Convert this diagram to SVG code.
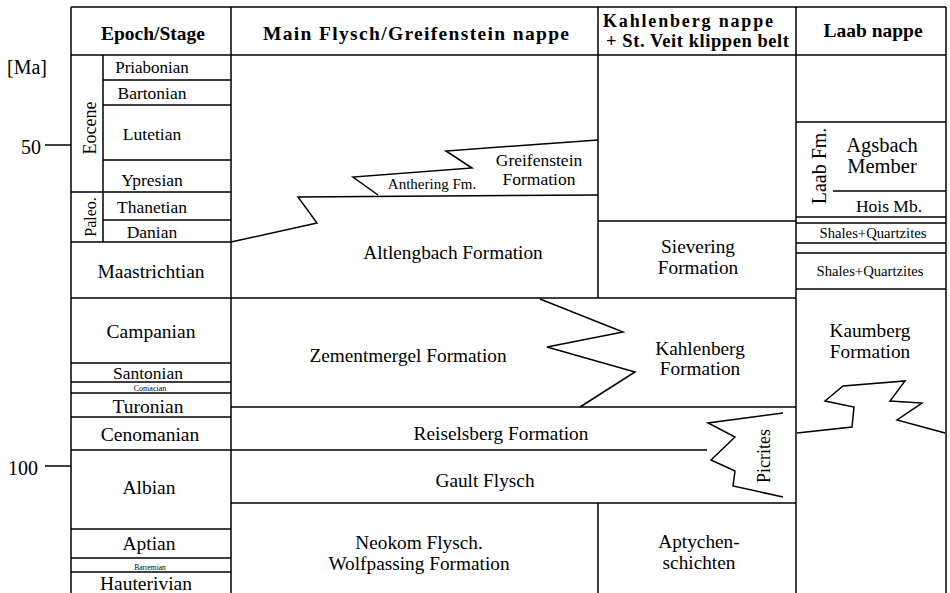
<svg xmlns="http://www.w3.org/2000/svg" width="950" height="593" viewBox="0 0 950 593" font-family="'Liberation Serif','DejaVu Serif','Noto Serif',serif">
<style>
.ln{stroke:#000;stroke-width:1.5;fill:none;stroke-linejoin:miter}
text{font-family:'Liberation Serif','DejaVu Serif','Noto Serif',serif;fill:#000}
.h{font-weight:bold;font-size:19.5px}
.st{text-anchor:middle;font-size:19.5px}
.ss{text-anchor:middle;font-size:17.5px}
.f{text-anchor:middle;font-size:19.3px}
.ma{font-size:20px}
</style>
<rect x="0" y="0" width="950" height="593" fill="#fff"/>
<g id="connectors">
<path class="ln" d="M71 7H946M71 55H946M71 7V593M231 7V593M598 7V298M598 503V593M796 7V593M946 7V593"/>
<path class="ln" d="M103 55V242M103 80H231M103 105H231M103 160H231M71 192H231M103 220H231M71 242H231M71 298H231M71 363H231M71 382H231M71 393H231M71 417H231M71 450H231M71 529H231M71 558H231M71 572H231"/>
<path class="ln" d="M45 145H71M45 466H71"/>
<polyline class="ln" points="231,242 317,223 298,197 598,195"/>
<polyline class="ln" points="378,195 353,177 472,168 446,151 598,140"/>
<path class="ln" d="M231 298H796M231 407H796M231 450H707M231 503H796M598 221H796"/>
<polyline class="ln" points="540,299 623,332 547,347 635,372 580,407"/>
<polyline class="ln" points="783,413 708,423 735,437 711,460 735,471 733,486 783,497"/>
<path class="ln" d="M796 122H946M833 191H946M796 217H946M796 223H946M796 243H946M796 253H946M796 289H946"/>
<polyline class="ln" points="797,433 852,427 854,407 825,401 843,386 905,381 890,401 922,403 897,420 945,433"/>
</g>
<g id="scale">
<text class="ma" x="7" y="74">[Ma]</text>
<text class="ma" x="41" y="154" text-anchor="end">50</text>
<text class="ma" x="38" y="475" text-anchor="end">100</text>
</g>
<g id="headers">
<text class="h" x="153" y="40" text-anchor="middle">Epoch/Stage</text>
<text class="h" x="263" y="40" textLength="306">Main Flysch/Greifenstein nappe</text>
<text class="h" x="603" y="27" style="font-size:18px" textLength="170">Kahlenberg nappe</text>
<text class="h" x="606" y="47" style="font-size:18.5px" textLength="183">+ St. Veit klippen belt</text>
<text class="h" x="873" y="37" text-anchor="middle">Laab nappe</text>
</g>
<g id="epochs">
<text transform="translate(96,128) rotate(-90)" text-anchor="middle" style="font-size:18px">Eocene</text>
<text transform="translate(96,217) rotate(-90)" text-anchor="middle" style="font-size:16px">Paleo.</text>
</g>
<g id="stages">
<text class="ss" x="152" y="73" style="font-size:17px">Priabonian</text>
<text class="ss" x="152" y="98.5">Bartonian</text>
<text class="ss" x="152" y="140">Lutetian</text>
<text class="ss" x="152" y="186">Ypresian</text>
<text class="ss" x="152" y="213">Thanetian</text>
<text class="ss" x="152" y="238">Danian</text>
<text class="st" x="151" y="278">Maastrichtian</text>
<text class="st" x="151" y="338">Campanian</text>
<text class="ss" x="148" y="379">Santonian</text>
<text class="st" x="150" y="391" style="font-size:8px">Coniacian</text>
<text class="st" x="148" y="413">Turonian</text>
<text class="st" x="150" y="441">Cenomanian</text>
<text class="st" x="149" y="494">Albian</text>
<text class="st" x="149" y="550">Aptian</text>
<text class="st" x="150" y="569.5" style="font-size:7.5px">Barremian</text>
<text class="st" x="146" y="590">Hauterivian</text>
</g>
<g id="greifenstein">
<text class="f" x="539" y="166" style="font-size:17.5px">Greifenstein</text>
<text class="f" x="539" y="185" style="font-size:17.5px">Formation</text>
</g>
<g id="anthering">
<text class="f" x="432" y="189" style="font-size:15px">Anthering Fm.</text>
</g>
<g id="altlengbach">
<text class="f" x="453" y="259">Altlengbach Formation</text>
</g>
<g id="zementmergel">
<text class="f" x="408" y="362">Zementmergel Formation</text>
</g>
<g id="kahlenberg">
<text class="f" x="700" y="355">Kahlenberg</text>
<text class="f" x="700" y="375">Formation</text>
</g>
<g id="sievering">
<text class="f" x="698" y="253">Sievering</text>
<text class="f" x="698" y="274">Formation</text>
</g>
<g id="reiselsberg">
<text class="f" x="501" y="440">Reiselsberg Formation</text>
</g>
<g id="gault">
<text class="f" x="485" y="487">Gault Flysch</text>
</g>
<g id="picrites">
<text transform="translate(770,456) rotate(-90)" text-anchor="middle" style="font-size:18px">Picrites</text>
</g>
<g id="neokom">
<text class="f" x="419" y="549">Neokom Flysch.</text>
<text class="f" x="419" y="570">Wolfpassing Formation</text>
</g>
<g id="aptychen">
<text class="f" x="699" y="548">Aptychen-</text>
<text class="f" x="699" y="569">schichten</text>
</g>
<g id="laabfm">
<text transform="translate(826,166) rotate(-90)" text-anchor="middle" style="font-size:20px">Laab Fm.</text>
</g>
<g id="agsbach">
<text class="f" x="882" y="152" style="font-size:20.5px">Agsbach</text>
<text class="f" x="882" y="173" style="font-size:20.5px">Member</text>
</g>
<g id="hois">
<text class="f" x="889" y="212" style="font-size:17.5px">Hois Mb.</text>
</g>
<g id="shales1">
<text class="f" x="873" y="238" style="font-size:14.7px">Shales+Quartzites</text>
</g>
<g id="shales2">
<text class="f" x="870" y="276" style="font-size:14.7px">Shales+Quartzites</text>
</g>
<g id="kaumberg">
<text class="f" x="870" y="337">Kaumberg</text>
<text class="f" x="870" y="358">Formation</text>
</g>
</svg>
